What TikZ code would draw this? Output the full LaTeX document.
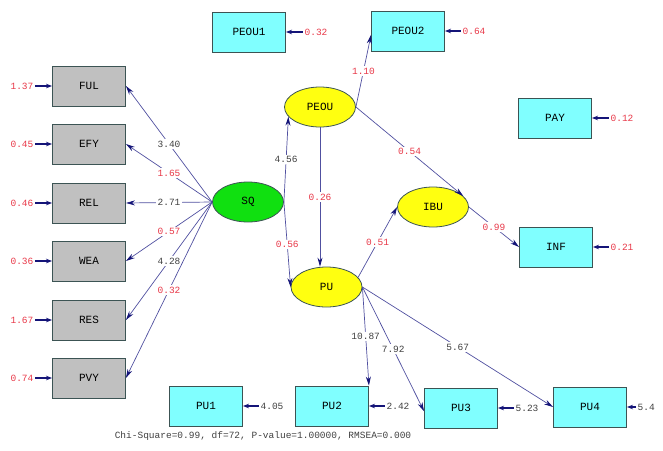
\documentclass[tikz,border=0pt]{standalone}
\usepackage{fontspec}
\setmonofont{Liberation Mono}
\usepackage{xcolor}
\definecolor{ggray}{HTML}{C0C0C0}
\definecolor{ccyan}{HTML}{80FFFF}
\definecolor{ggreen}{HTML}{10E010}
\definecolor{yyellow}{HTML}{FFFF10}
\definecolor{llink}{HTML}{5050A0}
\definecolor{aarrow}{HTML}{141478}
\definecolor{rred}{HTML}{E83848}
\definecolor{eedge}{HTML}{3C5454}
\usepackage{tikz}
\usetikzlibrary{arrows.meta}
\usetikzlibrary{shapes.geometric}
\usetikzlibrary{positioning}

\begin{document}
\begin{tikzpicture}[x=1pt,y=-1pt,
  every node/.style={font=\ttfamily},
  gbox/.style={draw=eedge,line width=0.9pt,fill=ggray,minimum width=73pt,minimum height=40pt,inner sep=0pt,font=\ttfamily\fontsize{11}{11}\selectfont},
  cbox/.style={gbox,fill=ccyan},
  lat/.style={ellipse,draw=eedge,line width=0.8pt,minimum width=71pt,minimum height=40pt,inner sep=0pt,font=\ttfamily\fontsize{11}{11}\selectfont},
  rnum/.style={text=rred,inner sep=1.5pt,font=\ttfamily\fontsize{9.5}{9.5}\selectfont},
  bnum/.style={rnum,text=black!75},
  path/.style={llink,line width=0.7pt,-{Stealth[length=9pt,width=5pt,color=aarrow]}},
  err/.style={aarrow,line width=1.1pt,-{Stealth[length=6pt,width=4.5pt,color=aarrow]}},
  lbl/.style={fill=white}]
\useasboundingbox (0,0) rectangle (663,450);
% indicators of SQ
\node[gbox] (ful) at (89,86) {FUL};
\node[gbox] (efy) at (89,144) {EFY};
\node[gbox] (rel) at (89,203) {REL};
\node[gbox] (wea) at (89,261) {WEA};
\node[gbox] (res) at (89,320) {RES};
\node[gbox] (pvy) at (89,378) {PVY};
\node[rnum] (eful) at (22,86) {1.37};
\node[rnum] (eefy) at (22,144) {0.45};
\node[rnum] (erel) at (22,203) {0.46};
\node[rnum] (ewea) at (22,261) {0.36};
\node[rnum] (eres) at (22,320) {1.67};
\node[rnum] (epvy) at (22,378) {0.74};
\draw (eful) edge [err] (ful);
\draw (eefy) edge [err] (efy);
\draw (erel) edge [err] (rel);
\draw (ewea) edge [err] (wea);
\draw (eres) edge [err] (res);
\draw (epvy) edge [err] (pvy);
% other indicators
\node[cbox] (peou1) at (249,32) {PEOU1};
\node[cbox] (peou2) at (408,31) {PEOU2};
\node[cbox] (pay) at (555,118) {PAY};
\node[cbox] (inf) at (556,247) {INF};
\node[cbox] (pu1) at (206,406) {PU1};
\node[cbox] (pu2) at (332,406) {PU2};
\node[cbox] (pu3) at (461,408) {PU3};
\node[cbox] (pu4) at (590,407) {PU4};
\node[rnum] (epeou1) at (316,32) {0.32};
\node[rnum] (epeou2) at (474,31) {0.64};
\node[rnum] (epay) at (622,118) {0.12};
\node[rnum] (einf) at (622,247) {0.21};
\node[bnum] (epu1) at (272,406) {4.05};
\node[bnum] (epu2) at (398,406) {2.42};
\node[bnum] (epu3) at (527,408) {5.23};
\node[bnum,anchor=west] (epu4) at (636,407) {5.4};
\draw (epeou1) edge [err] (peou1);
\draw (epeou2) edge [err] (peou2);
\draw (epay) edge [err] (pay);
\draw (einf) edge [err] (inf);
\draw (epu1) edge [err] (pu1);
\draw (epu2) edge [err] (pu2);
\draw (epu3) edge [err] (pu3);
\draw (epu4) edge [err] (pu4);
% latent variables
\node[lat,fill=ggreen] (sq) at (248,202) {SQ};
\node[lat,fill=yyellow] (peou) at (320,107) {PEOU};
\node[lat,fill=yyellow] (ibu) at (433,207) {IBU};
\node[lat,fill=yyellow] (pu) at (326.5,287) {PU};
% loadings
\draw (sq.west) edge [path] node[bnum,lbl] {3.40} (ful.east);
\draw (sq.west) edge [path] node[rnum,lbl] {1.65} (efy.east);
\draw (sq.west) edge [path] node[bnum,lbl] {2.71} (rel.east);
\draw (sq.west) edge [path] node[rnum,lbl] {0.57} (wea.east);
\draw (sq.west) edge [path] node[bnum,lbl] {4.28} (res.east);
\draw (sq.west) edge [path] node[rnum,lbl] {0.32} (pvy.east);
\draw (sq.east) edge [path] node[bnum,lbl] {4.56} (peou.197);
\draw (sq.east) edge [path] node[rnum,lbl] {0.56} (pu.west);
\draw (peou.south) edge [path] node[rnum,lbl] {0.26} (pu.north -| peou.south);
\draw (peou.east) edge [path] node[rnum,lbl] {1.10} (peou2.186);
\draw (peou.east) edge [path] node[rnum,lbl] {0.54} (ibu.20);
\draw (ibu.east) edge [path] node[rnum,lbl] {0.99} (inf.west);
\draw (pu.17) edge [path] node[rnum,lbl] {0.51} (ibu.west);
\draw (pu.east) edge [path] node[bnum,lbl] {10.87} (pu2.north east);
\draw (pu.east) edge [path] node[bnum,lbl] {7.92} (pu3.185);
\draw (pu.east) edge [path] node[bnum,lbl] {5.67} (pu4.west);
% fit line
\node[bnum] (fit) at (263,436) {Chi-Square=0.99, df=72, P-value=1.00000, RMSEA=0.000};
\end{tikzpicture}
\end{document}
